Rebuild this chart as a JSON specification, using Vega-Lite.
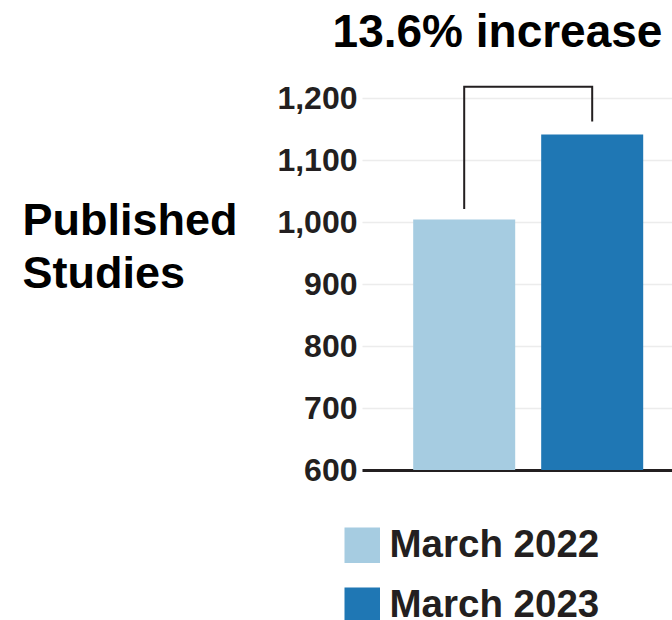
{
  "$schema": "https://vega.github.io/schema/vega-lite/v6.json",
  "width": 310,
  "height": 372,
  "autosize": {"type": "none"},
  "padding": {"left": 362, "top": 98, "right": 0, "bottom": 150},
  "background": "white",
  "config": {
    "font": "Liberation Sans",
    "view": {"stroke": null}
  },
  "title": {
    "text": "13.6% increase",
    "font": "Liberation Sans",
    "fontSize": 46,
    "fontWeight": "bold",
    "color": "#000000",
    "anchor": "middle",
    "frame": "group",
    "baseline": "alphabetic",
    "dx": -19.5,
    "offset": -11
  },
  "datasets": {
    "bars": [
      {"period": "March 2022", "studies": 1004},
      {"period": "March 2023", "studies": 1141}
    ],
    "bracket": [
      {"period": "March 2022", "v": 1021, "o": 1},
      {"period": "March 2022", "v": 1218, "o": 2},
      {"period": "March 2023", "v": 1218, "o": 3},
      {"period": "March 2023", "v": 1162, "o": 4}
    ]
  },
  "layer": [
    {
      "data": {"name": "bars"},
      "mark": {"type": "bar", "clip": true},
      "encoding": {
        "x": {
          "field": "period",
          "type": "nominal",
          "scale": {"paddingInner": 0.203, "paddingOuter": 0.3125, "align": 0.64},
          "axis": {"title": null, "labels": false, "ticks": false, "domain": true, "domainColor": "#231f20", "domainWidth": 3, "grid": false}
        },
        "y": {
          "field": "studies",
          "type": "quantitative",
          "scale": {"domain": [600, 1200], "zero": false, "nice": false},
          "axis": {
            "values": [600, 700, 800, 900, 1000, 1100, 1200],
            "format": ",.0f",
            "title": ["Published", "Studies"],
            "titleAngle": 0,
            "titleAlign": "left",
            "titleBaseline": "alphabetic",
            "titleX": -340,
            "titleY": 136,
            "titleFontSize": 45,
            "titleFontWeight": "bold",
            "titleColor": "#000000",
            "titleLineHeight": 53,
            "labelFontSize": 32,
            "labelFontWeight": "bold",
            "labelColor": "#231f20",
            "labelPadding": 5,
            "ticks": false,
            "domain": false,
            "grid": true,
            "gridColor": "#ececec",
            "gridWidth": 1.5
          }
        },
        "color": {
          "field": "period",
          "type": "nominal",
          "scale": {"domain": ["March 2022", "March 2023"], "range": ["#a6cce1", "#1f77b4"]},
          "legend": {
            "title": null,
            "orient": "none",
            "legendX": -19,
            "legendY": 428,
            "direction": "vertical",
            "padding": 0,
            "symbolType": "square",
            "symbolSize": 1260,
            "symbolStrokeWidth": 0,
            "labelFontSize": 38.5,
            "labelFontWeight": "bold",
            "labelColor": "#231f20",
            "labelOffset": 8,
            "labelLimit": 400,
            "rowPadding": 21
          }
        }
      }
    },
    {
      "data": {"name": "bracket"},
      "mark": {"type": "line", "color": "#231f20", "strokeWidth": 2, "clip": false},
      "encoding": {
        "x": {"field": "period", "type": "nominal"},
        "y": {"field": "v", "type": "quantitative"},
        "order": {"field": "o", "type": "quantitative"}
      }
    }
  ]
}
